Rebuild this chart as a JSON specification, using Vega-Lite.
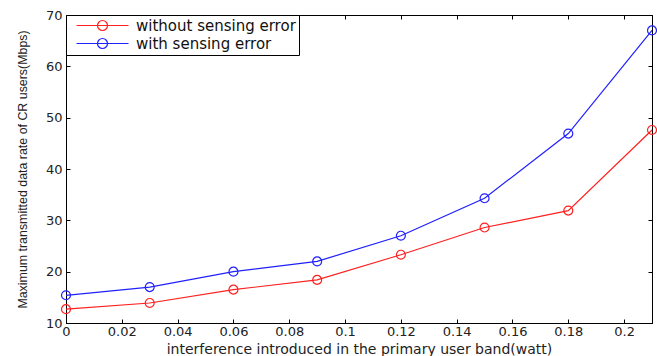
{
  "$schema": "https://vega.github.io/schema/vega-lite/v6.json",
  "width": 586,
  "height": 308,
  "autosize": {"type": "none"},
  "padding": {"left": 66, "top": 15, "right": 5, "bottom": 33},
  "background": "white",
  "data": {
    "values": [
      {"x": 0, "y": 12.7, "s": "without sensing error"},
      {"x": 0.03, "y": 13.9, "s": "without sensing error"},
      {"x": 0.06, "y": 16.5, "s": "without sensing error"},
      {"x": 0.09, "y": 18.4, "s": "without sensing error"},
      {"x": 0.12, "y": 23.3, "s": "without sensing error"},
      {"x": 0.15, "y": 28.6, "s": "without sensing error"},
      {"x": 0.18, "y": 31.9, "s": "without sensing error"},
      {"x": 0.21, "y": 47.6, "s": "without sensing error"},
      {"x": 0, "y": 15.4, "s": "with sensing error"},
      {"x": 0.03, "y": 17.0, "s": "with sensing error"},
      {"x": 0.06, "y": 20.0, "s": "with sensing error"},
      {"x": 0.09, "y": 22.0, "s": "with sensing error"},
      {"x": 0.12, "y": 27.0, "s": "with sensing error"},
      {"x": 0.15, "y": 34.3, "s": "with sensing error"},
      {"x": 0.18, "y": 46.9, "s": "with sensing error"},
      {"x": 0.21, "y": 67.0, "s": "with sensing error"}
    ]
  },
  "layer": [
    {
      "mark": {"type": "line", "strokeWidth": 1.2, "point": {"filled": false, "size": 80, "strokeWidth": 1.2}},
      "encoding": {
        "x": {
          "field": "x", "type": "quantitative",
          "scale": {"domain": [0, 0.21], "nice": false, "zero": false},
          "axis": {
            "orient": "bottom",
            "values": [0, 0.02, 0.04, 0.06, 0.08, 0.1, 0.12, 0.14, 0.16, 0.18, 0.2],
            "format": "~g",
            "title": "interference introduced in the primary user band(watt)",
            "titleFontSize": 14, "titleFontWeight": "normal", "titleFont": "DejaVu Sans", "titleColor": "#222",
            "titlePadding": 4,
            "labelFontSize": 13, "labelFont": "DejaVu Sans", "labelColor": "#222", "labelPadding": 6,
            "tickSize": -4, "tickColor": "#000", "domainColor": "#000", "grid": false, "labelFlush": false
          }
        },
        "y": {
          "field": "y", "type": "quantitative",
          "scale": {"domain": [10, 70], "nice": false, "zero": false},
          "axis": {
            "orient": "left",
            "values": [10, 20, 30, 40, 50, 60, 70],
            "title": "Maximum transmitted data rate of CR users(Mbps)",
            "titleFontSize": 12.4, "titleFontWeight": "normal", "titleFont": "Liberation Sans", "titleColor": "#222",
            "titlePadding": 16,
            "labelFontSize": 13, "labelFont": "DejaVu Sans", "labelColor": "#222", "labelPadding": 8,
            "tickSize": -4, "tickColor": "#000", "domainColor": "#000", "grid": false
          }
        },
        "color": {
          "field": "s", "type": "nominal",
          "scale": {"domain": ["without sensing error", "with sensing error"], "range": ["#ff2020", "#2020ff"]},
          "legend": {
            "title": null,
            "orient": "top-left",
            "offset": 0,
            "strokeColor": "#000",
            "fillColor": "white",
            "padding": 3,
            "labelFontSize": 15,
            "labelFont": "DejaVu Sans",
            "labelColor": "#111",
            "symbolType": "M0,0H10.4M6.2,0A1,1 0 1,1 4.2,0A1,1 0 1,1 6.2,0",
            "symbolSize": 100,
            "symbolStrokeWidth": 1.2,
            "symbolFillColor": "transparent",
            "rowPadding": 2,
            "labelOffset": 52
          }
        }
      }
    },
    {
      "mark": {"type": "point", "opacity": 0},
      "encoding": {
        "x": {
          "field": "x", "type": "quantitative",
          "axis": {
            "orient": "top", "values": [0, 0.02, 0.04, 0.06, 0.08, 0.1, 0.12, 0.14, 0.16, 0.18, 0.2],
            "labels": false, "title": null, "tickSize": -4, "tickColor": "#000", "domainColor": "#000", "grid": false
          }
        },
        "y": {
          "field": "y", "type": "quantitative",
          "axis": {
            "orient": "right", "values": [10, 20, 30, 40, 50, 60, 70],
            "labels": false, "title": null, "tickSize": -4, "tickColor": "#000", "domainColor": "#000", "grid": false
          }
        }
      }
    }
  ],
  "resolve": {"axis": {"x": "independent", "y": "independent"}},
  "config": {
    "view": {"stroke": "#000", "strokeWidth": 1}
  }
}
